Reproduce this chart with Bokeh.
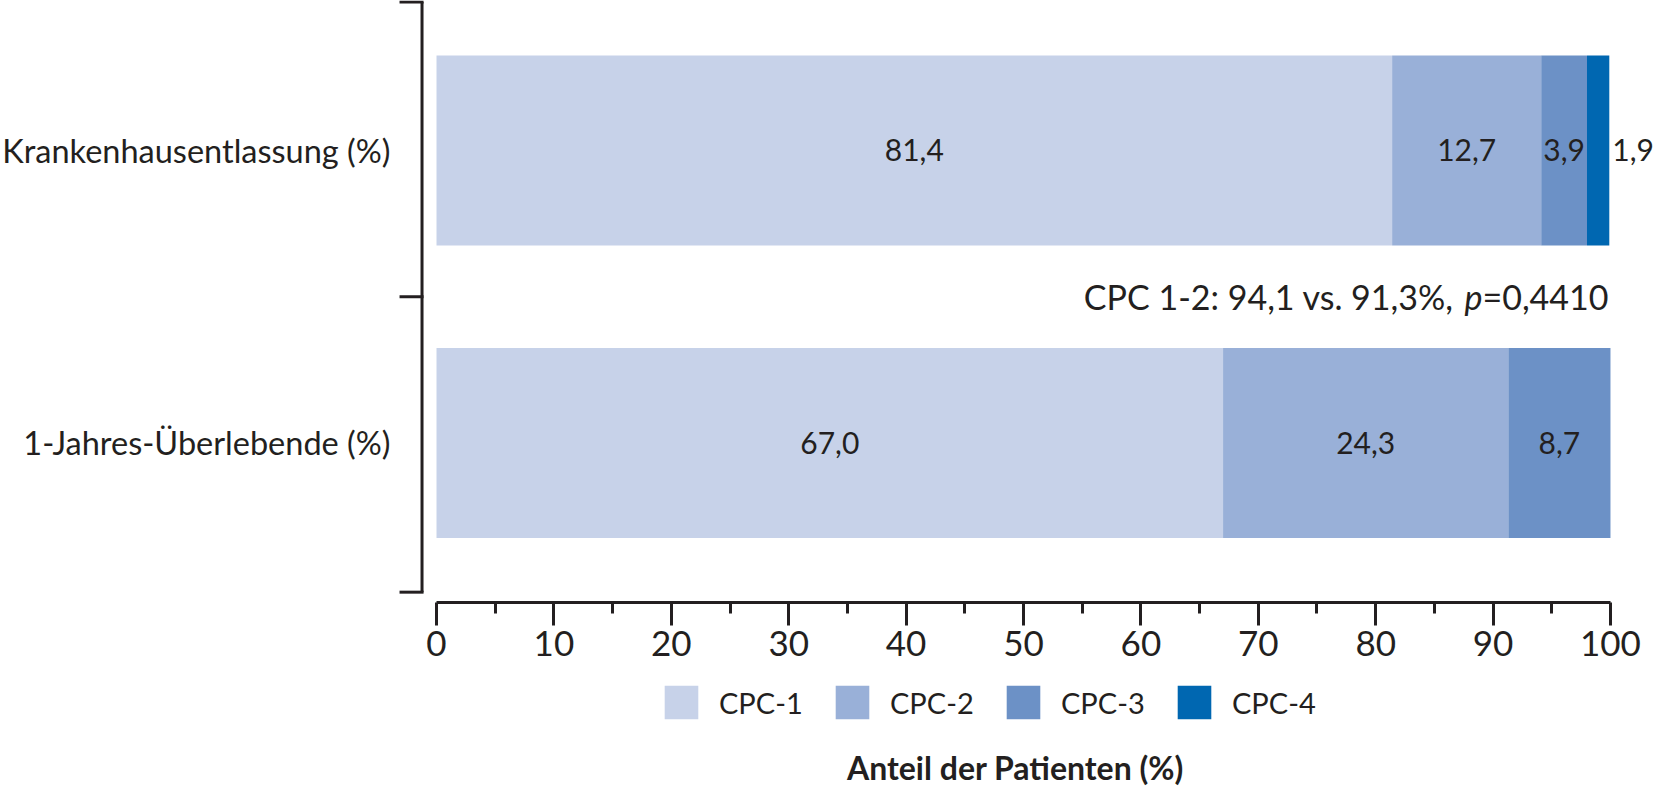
import numpy as np
from bokeh.plotting import figure
from bokeh.models import ColumnDataSource, Range1d, FixedTicker, Legend, LegendItem
from bokeh.core.properties import value
from bokeh.embed import file_html
from bokeh.resources import INLINE

# ---------------- data ----------------
categories = ["Krankenhausentlassung (%)", "1-Jahres-Überlebende (%)"]
series_names = ["CPC-1", "CPC-2", "CPC-3", "CPC-4"]
cpc1 = [81.4, 67.0]
cpc2 = [12.7, 24.3]
cpc3 = [3.9, 8.7]
cpc4 = [1.9, 0.0]
x_ticks = [0, 10, 20, 30, 40, 50, 60, 70, 80, 90, 100]
x_minor_ticks = [5, 15, 25, 35, 45, 55, 65, 75, 85, 95]
annotation_parts = ["CPC 1-2: 94,1 vs. 91,3%, ", "p", "=0,4410"]
x_title = "Anteil der Patienten (%)"

# ---------------- style ----------------
colors = ["#c7d2e9", "#99b0d8", "#6c91c6", "#0067b1"]
INK = "#231f20"
FONT = "Lato"

y_pos = [1, 0]  # top row, bottom row

W, H = 1654, 786
p = figure(width=W, height=H,
           x_range=Range1d(-37.14, 103.75), y_range=Range1d(-1.1744, 1.5128),
           toolbar_location=None, output_backend="svg", title=None,
           y_axis_location=None, min_border=0)
p.outline_line_color = None
p.xgrid.visible = False
p.ygrid.visible = False

vals = np.array([cpc1, cpc2, cpc3, cpc4])
rights = vals.cumsum(axis=0)
lefts = rights - vals

renderers = []
for i in range(len(series_names)):
    src = ColumnDataSource(dict(y=y_pos, left=lefts[i], right=rights[i]))
    r = p.hbar(y="y", left="left", right="right", height=0.65, source=src,
               fill_color=colors[i], line_color=None)
    renderers.append(r)

# value labels
in_x, in_y, in_t, out_x, out_y, out_t = [], [], [], [], [], []
for i in range(len(series_names)):
    for j in range(len(y_pos)):
        v = vals[i, j]
        if v <= 0:
            continue
        txt = f"{v:.1f}".replace(".", ",")
        if v >= 3:
            in_x.append((lefts[i, j] + rights[i, j]) / 2); in_y.append(y_pos[j]); in_t.append(txt)
        else:
            out_x.append(rights[i, j]); out_y.append(y_pos[j]); out_t.append(txt)

p.text(x=in_x, y=in_y, text=in_t, text_align="center", text_baseline="middle",
       text_font=value(FONT), text_font_size="30px", text_color=INK)
p.text(x=out_x, y=out_y, text=out_t, text_align="left", text_baseline="middle",
       x_offset=3, text_font=value(FONT), text_font_size="30px", text_color=INK)

# category labels
p.text(x=[-3.92] * 2, y=y_pos, text=categories, text_align="right", text_baseline="middle",
       text_font=value(FONT), text_font_size="32.5px", text_color=INK)

# bracket (left axis-like)
bx, btick = -1.234, -3.15
y_top = p.y_range.end - 0.005
b_ys = [min(y_pos) - 0.51, (y_pos[0] + y_pos[1]) / 2, y_top]
p.segment(x0=[bx], y0=[b_ys[0]], x1=[bx], y1=[y_top], line_width=3, line_color=INK)
p.segment(x0=[btick] * 3, y0=b_ys, x1=[bx + 0.13] * 3, y1=b_ys, line_width=3, line_color=INK)

# annotation with italic p
ann_y = (y_pos[0] + y_pos[1]) / 2
w_last, w_p = 126, 20
common = dict(text_baseline="middle", text_font=value(FONT), text_font_size="34px",
              text_color=INK, text_align="right")
p.text(x=[100], y=[ann_y], text=[annotation_parts[2]], x_offset=-2, **common)
p.text(x=[100], y=[ann_y], text=[annotation_parts[1]], x_offset=-2 - w_last,
       text_font_style="italic", **common)
p.text(x=[100], y=[ann_y], text=[annotation_parts[0]], x_offset=-2 - w_last - w_p, **common)

# x axis, drawn at a fixed data location inside the frame
ax = p.xaxis[0]
ax.fixed_location = -0.5463
ax.ticker = FixedTicker(ticks=x_ticks, minor_ticks=x_minor_ticks)
ax.bounds = (0, 100)
ax.axis_line_width = 3
ax.axis_line_color = INK
ax.major_tick_line_width = 3
ax.major_tick_line_color = INK
ax.major_tick_out = 23
ax.major_tick_in = 0
ax.minor_tick_line_width = 3
ax.minor_tick_line_color = INK
ax.minor_tick_out = 11
ax.minor_tick_in = 0
ax.major_label_text_font = FONT
ax.major_label_text_font_size = "35px"
ax.major_label_text_color = INK
ax.major_label_standoff = 5

# x axis title
p.text(x=[50], y=[-1.1094], text=[x_title], text_align="center", text_baseline="middle",
       x_offset=-8, text_font=value(FONT), text_font_size="32px", text_font_style="bold",
       text_color=INK)

# legend (bar swatches are drawn with a 10% inset inside the glyph box)
legend = Legend(items=[LegendItem(label=series_names[i], renderers=[renderers[i]])
                       for i in range(len(series_names))],
                orientation="horizontal", location=(660, 63),
                glyph_width=42, glyph_height=42, label_standoff=17, label_width=96,
                label_height=42, spacing=16, padding=0, margin=0, border_line_color=None,
                background_fill_alpha=0, label_text_font=FONT,
                label_text_font_size="29px", label_text_color=INK)
p.add_layout(legend)

open("out.html", "w").write(file_html(p, INLINE))
